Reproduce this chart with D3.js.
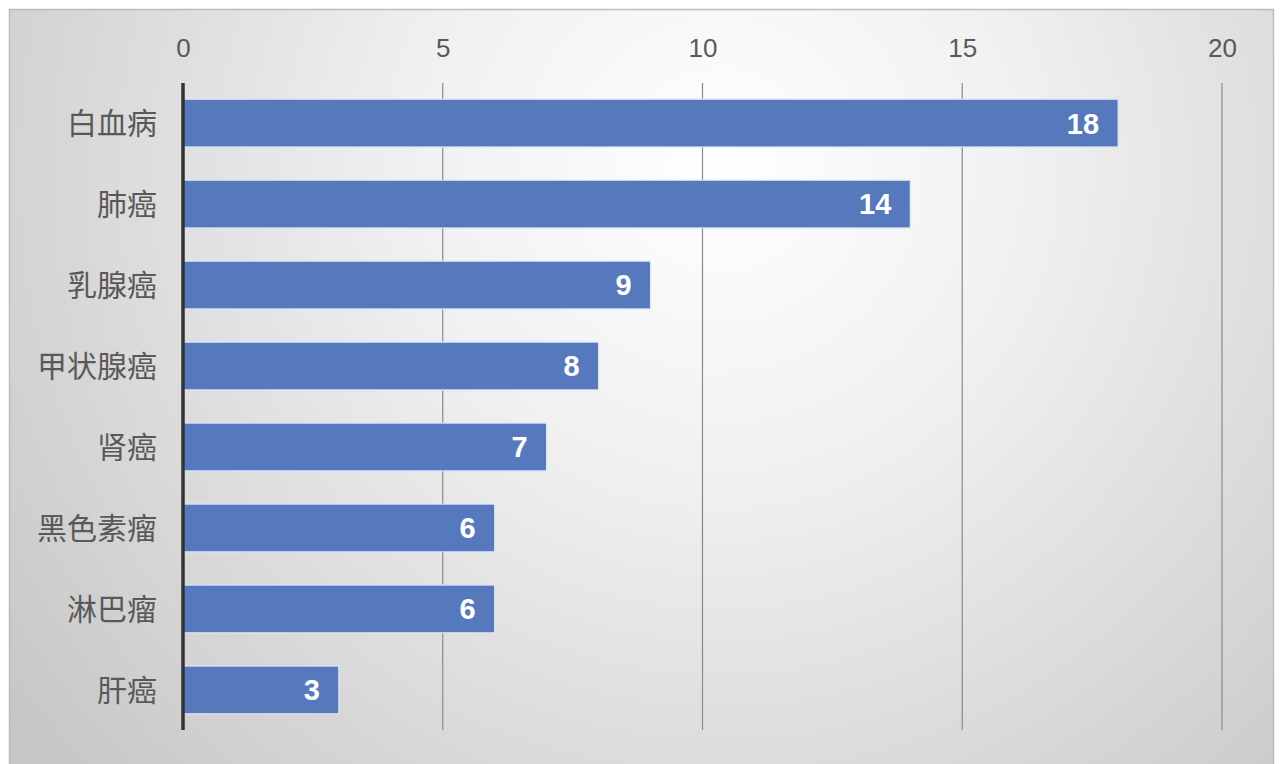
<!DOCTYPE html>
<html><head><meta charset="utf-8">
<script src="https://cdn.jsdelivr.net/npm/d3@7"></script>
<style>html,body{margin:0;padding:0;background:#fff;}svg{display:block;}</style>
</head><body>
<script>
const categories = ["白血病","肺癌","乳腺癌","甲状腺癌","肾癌","黑色素瘤","淋巴瘤","肝癌"];
const values = [18,14,9,8,7,6,6,3];
const tickValues = [0,5,10,15,20];

const W = 1280, H = 764;
const svg = d3.select("body").append("svg").attr("width", W).attr("height", H);
const defs = svg.append("defs");
const grad = defs.append("radialGradient").attr("id","bg")
  .attr("gradientUnits","userSpaceOnUse").attr("cx",720).attr("cy",170).attr("r",900);
grad.append("stop").attr("offset","0%").attr("stop-color","#ffffff");
grad.append("stop").attr("offset","35%").attr("stop-color","#f0f0f0");
grad.append("stop").attr("offset","75%").attr("stop-color","#d6d6d6");
grad.append("stop").attr("offset","100%").attr("stop-color","#c6c6c6");

svg.append("rect").attr("x",9.5).attr("y",9.5).attr("width",1264).attr("height",H)
  .attr("fill","url(#bg)").attr("stroke","#bdbdbd").attr("stroke-width",1.5);

const x = d3.scaleLinear().domain([0,20]).range([183,1222]);
const y = d3.scaleBand().domain(categories).range([83,730]).paddingInner(0.41).paddingOuter(0.2);

// gridlines
svg.append("g").selectAll("line").data(tickValues.slice(1)).join("line")
  .attr("x1",d=>x(d)).attr("x2",d=>x(d)).attr("y1",83).attr("y2",730)
  .attr("stroke","#8a8a8a").attr("stroke-width",1.2);

// top axis
const axis = svg.append("g").attr("transform","translate(0,57)")
  .call(d3.axisTop(x).tickValues(tickValues).tickSize(0).tickPadding(0));
axis.select(".domain").remove();
axis.selectAll("text").attr("font-family","'Liberation Sans', Arial, sans-serif")
  .attr("font-size",26).attr("fill","#595959").attr("dy","0");

// bars
svg.append("g").selectAll("rect").data(values).join("rect")
  .attr("x",x(0)).attr("y",(d,i)=>y(categories[i]))
  .attr("width",d=>x(d)-x(0)).attr("height",y.bandwidth())
  .attr("fill","#5679bd").attr("stroke","#dce6f5").attr("stroke-width",1.2);

// value labels
svg.append("g").selectAll("text").data(values).join("text")
  .attr("x",d=>x(d)-19).attr("y",(d,i)=>y(categories[i])+y.bandwidth()/2)
  .attr("dy","0.36em").attr("text-anchor","end")
  .attr("font-family","'Liberation Sans', Arial, sans-serif").attr("font-size",29)
  .attr("font-weight","bold").attr("fill","#ffffff").text(d=>d);

// category labels
svg.append("g").selectAll("text").data(categories).join("text")
  .attr("x",157).attr("y",d=>y(d)+y.bandwidth()/2).attr("dy","0.36em")
  .attr("text-anchor","end").attr("font-family","'Noto Sans CJK SC', sans-serif")
  .attr("font-size",30).attr("fill","#595959").text(d=>d);

// y axis line
svg.append("line").attr("x1",x(0)).attr("x2",x(0)).attr("y1",83).attr("y2",730)
  .attr("stroke","#333333").attr("stroke-width",3.5);
</script>
</body></html>
